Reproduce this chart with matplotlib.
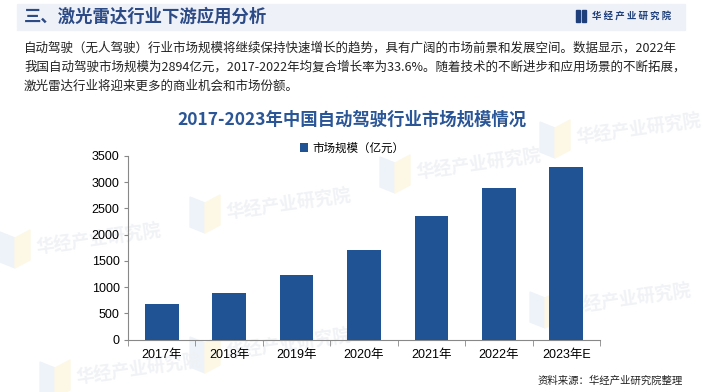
import numpy as np
import matplotlib.pyplot as plt
from matplotlib.patches import Rectangle, Polygon

plt.rcParams['font.family'] = ['Noto Sans CJK SC', 'DejaVu Sans']

# data
years = ['2017年', '2018年', '2019年', '2020年', '2021年', '2022年', '2023年E']
market_size = [675, 885, 1230, 1708, 2358, 2894, 3295]
y_ticks = [0, 500, 1000, 1500, 2000, 2500, 3000, 3500]

W, H = 704, 392
BLUE = '#1F5394'


def fx(px):
    return px / W


def fy(py):
    return 1 - py / H


fig = plt.figure(figsize=(W / 100, H / 100), dpi=100)
fig.patch.set_facecolor('white')

# faint watermarks (behind everything)
marks = [(60, 240), (250, 205), (440, 165), (250, 345), (100, 370), (600, 130), (590, 300)]
for mx, my in marks:
    fig.patches.append(Polygon([[fx(mx - 60), fy(my - 8)], [fx(mx - 45), fy(my - 2)],
                                [fx(mx - 45), fy(my + 28)], [fx(mx - 60), fy(my + 22)]],
                               closed=True, transform=fig.transFigure, color='#EEF3FA', zorder=0))
    fig.patches.append(Polygon([[fx(mx - 45), fy(my - 2)], [fx(mx - 30), fy(my - 10)],
                                [fx(mx - 30), fy(my + 20)], [fx(mx - 45), fy(my + 28)]],
                               closed=True, transform=fig.transFigure, color='#FDF8E6', zorder=0))
    fig.text(fx(mx - 25), fy(my), '华经产业研究院', fontsize=13, fontweight='bold', color='#F0F2F5',
             rotation=8, ha='left', va='center', zorder=0)

# header band
fig.patches.append(Rectangle((fx(17), fy(30)), fx(685) - fx(17), fy(4) - fy(30),
                             transform=fig.transFigure, color='#EEF1F7', zorder=1))
fig.text(fx(24), fy(17), '三、激光雷达行业下游应用分析', fontsize=12.5, fontweight='bold',
         color='#2B4A86', ha='left', va='center', zorder=2)
fig.patches.append(Rectangle((fx(576), fy(22)), fx(4) - fx(0), fy(10) - fy(22),
                             transform=fig.transFigure, color='#1F3F7A', zorder=2))
fig.patches.append(Rectangle((fx(582), fy(22)), fx(4) - fx(0), fy(10) - fy(22),
                             transform=fig.transFigure, color='#1F3F7A', zorder=2))
fig.text(fx(592), fy(16), '华 经 产 业 研 究 院', fontsize=6.8, fontweight='bold',
         color='#1F3F7A', ha='left', va='center', zorder=2)

# body text
body = [
    '自动驾驶（无人驾驶）行业市场规模将继续保持快速增长的趋势，具有广阔的市场前景和发展空间。数据显示，2022年',
    '我国自动驾驶市场规模为2894亿元，2017-2022年均复合增长率为33.6%。随着技术的不断进步和应用场景的不断拓展，',
    '激光雷达行业将迎来更多的商业机会和市场份额。',
]
for i, line in enumerate(body):
    fig.text(fx(24), fy(48 + i * 19), line, fontsize=9, color='#222222', ha='left', va='center', zorder=2)

fig.text(fx(352), fy(120), '2017-2023年中国自动驾驶行业市场规模情况', fontsize=12.5,
         fontweight='bold', color='#2A5597', ha='center', va='center', zorder=2)

# chart
ax = fig.add_axes([fx(128), fy(339.5), fx(600) - fx(128), fy(156) - fy(339.5)])
ax.set_zorder(3)
ax.set_facecolor('none')
x = np.arange(len(years))
ax.bar(x, market_size, width=0.5, color=BLUE, zorder=3, label='市场规模（亿元）')
ax.set_xlim(-0.5, len(years) - 0.5)
ax.set_ylim(0, 3500)
ax.set_yticks(y_ticks)
ax.set_yticklabels([str(v) for v in y_ticks], family=['Liberation Sans', 'Noto Sans CJK SC'], fontsize=9)
ax.set_xticks(x)
ax.set_xticklabels(years, family=['Liberation Sans', 'Noto Sans CJK SC'], fontsize=9)
ax.tick_params(axis='x', length=0, pad=7)
ax.set_xticks(np.arange(-0.5, len(years)), minor=True)
ax.tick_params(axis='x', which='minor', length=4, color='#888888')
ax.tick_params(axis='y', length=3, color='#888888', pad=3)
for s in ['top', 'right']:
    ax.spines[s].set_visible(False)
for s in ['left', 'bottom']:
    ax.spines[s].set_color('#888888')
    ax.spines[s].set_linewidth(0.8)

ax.legend(loc='center', bbox_to_anchor=(fx(352), fy(148)), bbox_transform=fig.transFigure,
          frameon=False, fontsize=8.3, handlelength=0.7, handleheight=0.7, handletextpad=0.4)

fig.text(fx(683), fy(381), '资料来源：华经产业研究院整理', fontsize=7.5, color='#222222',
         ha='right', va='center', zorder=2)

fig.savefig('out.png', dpi=100)
